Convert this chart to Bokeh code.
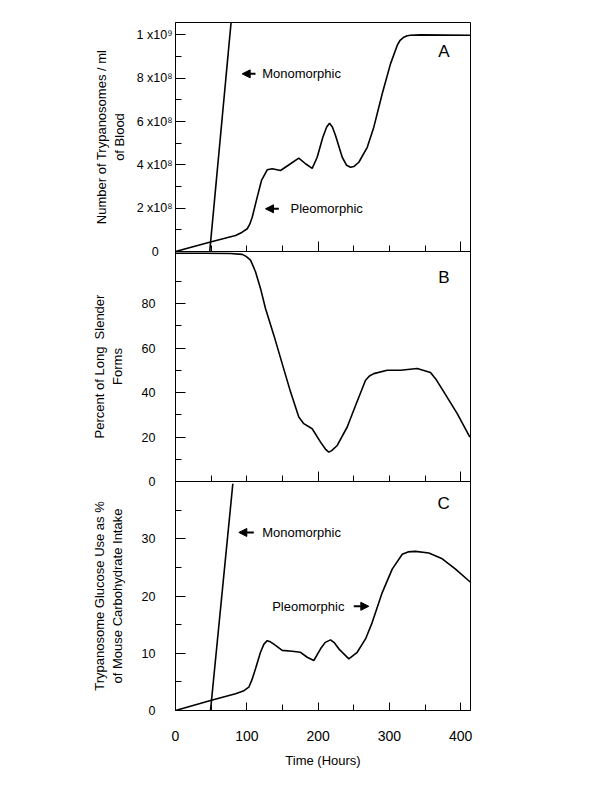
from bokeh.plotting import figure
from bokeh.layouts import column
from bokeh.models import Range1d, FixedTicker, Label, Arrow, NormalHead
from bokeh.embed import file_html
from bokeh.resources import INLINE

FONT = "Liberation Sans"

# ---------------- data ----------------
# Panel A: trypanosomes per ml of blood (units of 1e8)
a_pleo_t = [0, 47.7, 84.2, 93.0, 100.6, 104.0, 107.6, 114.6, 120.6, 128.6, 135.6, 147.3, 161.3,
            172.9, 182.3, 191.7, 198.7, 206.6, 212.0, 216.0, 220.0, 224.4, 233.8, 240.0,
            245.4, 250.0, 257.1, 268.9, 278.1, 289.9, 301.5, 310.9, 315.0, 320.2, 325.0,
            329.6, 343.6, 413.7]
a_pleo_n = [0, 0.43, 0.74, 0.88, 1.05, 1.25, 1.58, 2.51, 3.28, 3.77, 3.82, 3.74, 4.05,
            4.31, 4.05, 3.84, 4.35, 5.27, 5.75, 5.92, 5.75, 5.35, 4.35, 3.98,
            3.89, 3.92, 4.12, 4.81, 5.74, 7.28, 8.66, 9.51, 9.75, 9.89, 9.96,
            9.98, 10.0, 9.98]
a_mono_t = [48, 80]
a_mono_n = [0, 11.3]

# Panel B: percent of long slender forms
b_t = [0, 40, 77.1, 93.5, 99.0, 105.2, 112.2, 119.2, 126.2, 137.9, 149.6, 161.3, 172.9, 179.9,
       191.7, 203.4, 211.0, 215.0, 219.0, 226.8, 240.8, 252.5, 266.5, 272.0, 278.1, 296.9,
       315.6, 339.0, 357.6, 366.0, 376.3, 395.1, 412.8]
b_pct = [102.6, 102.6, 102.5, 102.1, 101.2, 99.5, 94.3, 86.8, 77.8, 65.8, 53.0, 40.3, 29.0, 26.0,
         23.7, 17.7, 14.3, 13.2, 13.9, 16.2, 24.5, 34.2, 45.5, 47.4, 48.5, 50.0,
         50.0, 50.8, 49.0, 45.6, 40.3, 30.5, 20.0]

# Panel C: glucose use as % of mouse carbohydrate intake
c_pleo_t = [0, 49.1, 84.2, 95.0, 102.8, 107.0, 112.2, 119.2, 124.0, 128.6, 133.0, 137.9, 149.6,
            163.7, 175.3, 184.7, 194.0, 203.4, 210.0, 217.4, 223.0, 229.0, 243.1, 254.8,
            266.5, 275.9, 289.9, 303.9, 318.0, 326.0, 336.6, 355.3, 374.1, 392.7, 413.7]
c_pleo_pct = [0, 1.75, 2.91, 3.4, 4.07, 5.3, 7.28, 10.17, 11.6, 12.2, 12.0, 11.6, 10.5,
              10.35, 10.17, 9.3, 8.73, 10.77, 11.9, 12.34, 11.8, 10.77, 9.02, 10.17,
              12.5, 15.4, 20.6, 24.7, 27.3, 27.7, 27.8, 27.5, 26.5, 24.7, 22.4]
c_mono_t = [49.1, 80.4]
c_mono_pct = [0, 39.6]

x_major = [0, 200, 400]
x_minor = [50, 100, 150, 250, 300, 350]
x_label_ticks = [0, 100, 200, 300, 400]

a_major = [0, 2, 4, 6, 8, 10]
a_minor = [1, 3, 5, 7, 9]
a_labels = {0: "0\u00a0\u00a0\u00a0\u00a0", 2: "2 x10\u2078", 4: "4 x10\u2078", 6: "6 x10\u2078",
            8: "8 x10\u2078", 10: "1 x10\u2079"}
b_major = [0, 20, 40, 60, 80]
b_minor = [10, 30, 50, 70, 90]
c_major = [0, 10, 20, 30]
c_minor = [5, 15, 25, 35]

x_range = Range1d(0, 413.7)


def make_fig(y_end, frame_h, top_border, bottom_border):
    p = figure(frame_width=295, frame_height=frame_h, x_range=x_range,
               y_range=Range1d(0, y_end), output_backend="svg", toolbar_location=None,
               min_border_left=175, min_border_right=10, min_border_top=top_border,
               min_border_bottom=bottom_border)
    p.xgrid.visible = False
    p.ygrid.visible = False
    p.outline_line_color = "black"
    p.outline_line_width = 1
    p.background_fill_color = None
    p.border_fill_color = None
    for ax in (p.xaxis[0], p.yaxis[0]):
        ax.axis_line_color = "black"
        ax.major_tick_line_color = "black"
        ax.minor_tick_line_color = "black"
        ax.major_tick_out = 0
        ax.minor_tick_out = 0
        ax.major_label_text_font = FONT
        ax.major_label_text_color = "black"
        ax.axis_label_text_font = FONT
        ax.axis_label_text_font_style = "normal"
        ax.axis_label_text_font_size = "13px"
        ax.axis_label_text_color = "black"
    p.yaxis.major_tick_in = 10
    p.yaxis.minor_tick_in = 6
    p.yaxis.major_label_text_font_size = "12.5px"
    return p


def hide_x_labels(p):
    p.xaxis.ticker = FixedTicker(ticks=x_major, minor_ticks=x_minor)
    p.xaxis.major_tick_in = 10
    p.xaxis.minor_tick_in = 6
    p.xaxis.major_label_overrides = {t: "" for t in x_major}
    p.xaxis.major_label_text_font_size = "1px"
    p.xaxis.major_label_standoff = 0


def panel_letter(p, x, y, t):
    p.add_layout(Label(x=x, y=y, text=t, text_font=FONT, text_font_size="17px",
                       text_align="center", text_baseline="middle", text_color="black"))


def note(p, x, y, t):
    p.add_layout(Label(x=x, y=y, text=t, text_font=FONT, text_font_size="13px",
                       text_align="left", text_baseline="middle", text_color="black"))


def arrow(p, x0, x1, y):
    p.add_layout(Arrow(end=NormalHead(size=8, fill_color="black", line_color="black"),
                       x_start=x0, y_start=y, x_end=x1, y_end=y,
                       line_width=2, line_color="black"))


# ---- Panel A ----
pa = make_fig(10.57, 229, 22, 8)
hide_x_labels(pa)
pa.yaxis.ticker = FixedTicker(ticks=a_major, minor_ticks=a_minor)
pa.yaxis.major_label_overrides = a_labels
pa.yaxis.major_label_standoff = 3
pa.yaxis.axis_label = "Number of Trypanosomes / ml\nof Blood"
pa.yaxis.axis_label_standoff = 7
pa.line(a_pleo_t, a_pleo_n, line_color="black", line_width=1.6)
pa.line(a_mono_t, a_mono_n, line_color="black", line_width=1.6)
panel_letter(pa, 376.3, 9.24, "A")
arrow(pa, 112.2, 93.5, 8.2)
note(pa, 121.6, 8.2, "Monomorphic")
arrow(pa, 144.9, 126.2, 1.97)
note(pa, 161.3, 1.97, "Pleomorphic")

# ---- Panel B ----
pb = make_fig(103.4, 230, 0, 8)
pb.styles = {"margin-top": "-8px"}
hide_x_labels(pb)
pb.yaxis.ticker = FixedTicker(ticks=b_major, minor_ticks=b_minor)
pb.yaxis.major_label_standoff = 20
pb.yaxis.axis_label = "Percent of Long \u00a0Slender\nForms"
pb.yaxis.axis_label_standoff = 14
pb.line(b_t, b_pct, line_color="black", line_width=1.6)
panel_letter(pb, 376.3, 91.9, "B")

# ---- Panel C ----
pc = make_fig(40.0, 229, 0, 10)
pc.styles = {"margin-top": "-8px"}
pc.xaxis.ticker = FixedTicker(ticks=x_label_ticks, minor_ticks=[50, 150, 250, 350])
pc.xaxis.major_tick_in = 8
pc.xaxis.minor_tick_in = 6
pc.xaxis.major_label_text_font_size = "14px"
pc.xaxis.major_label_standoff = 20
pc.xaxis.axis_label = "Time (Hours)"
pc.xaxis.axis_label_standoff = 9
pc.yaxis.ticker = FixedTicker(ticks=c_major, minor_ticks=c_minor)
pc.yaxis.major_label_standoff = 20
pc.yaxis.axis_label = "Trypanosome Glucose Use as %\nof Mouse Carbohydrate Intake"
pc.yaxis.axis_label_standoff = 14
pc.line(c_pleo_t, c_pleo_pct, line_color="black", line_width=1.6)
pc.line(c_mono_t, c_mono_pct, line_color="black", line_width=1.6)
panel_letter(pc, 376.0, 36.1, "C")
arrow(pc, 109.8, 88.8, 31.1)
note(pc, 121.6, 31.1, "Monomorphic")
arrow(pc, 250.0, 271.1, 18.2)
note(pc, 135.6, 18.2, "Pleomorphic")

layout = column(pa, pb, pc, spacing=0)
open("out.html", "w").write(file_html(layout, INLINE))
